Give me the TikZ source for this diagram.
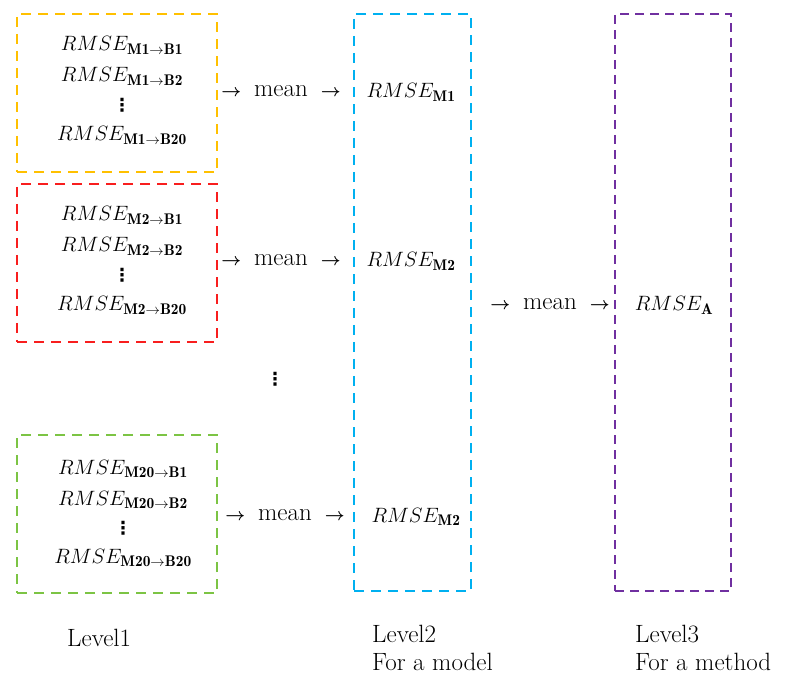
\documentclass[tikz,border=0pt]{standalone}
\usepackage{amsmath}
\usepackage{fontspec}
\newfontfamily\dvsfont{DejaVu Sans}
\definecolor{cyel}{HTML}{FFC000}
\definecolor{cred}{HTML}{F81E1E}
\definecolor{cgrn}{HTML}{7CC444}
\definecolor{cblu}{HTML}{00B0F0}
\definecolor{cpur}{HTML}{7030A0}
\newcommand\myarr{{\fontsize{17}{17}\selectfont$\boldsymbol{\rightarrow}$}}
\newcommand\myvdots{{\dvsfont\bfseries ⋮}}
\begin{document}
\begin{tikzpicture}[x=1pt,y=-1pt,
 box/.style={line width=2.4pt, dash pattern=on 10pt off 7pt, inner sep=0pt, outer sep=0pt},
 pbox/.style={line width=2.2pt, dash pattern=on 9pt off 6pt, inner sep=0pt, outer sep=0pt},
 rm/.style={anchor=base, font=\fontsize{22}{26}\selectfont, inner sep=0pt},
 tx/.style={anchor=base, font=\fontsize{25}{30}\selectfont, inner sep=0pt},
 dt/.style={font=\fontsize{18}{19}\selectfont, inner sep=0pt}]
\useasboundingbox (0,0) rectangle (787,684);
% boxes
\node[box, draw=cyel, minimum width=200pt, minimum height=158pt] (b1) at (117,93) {};
\node[box, draw=cred, minimum width=200pt, minimum height=158pt] (b2) at (117,263) {};
\node[box, draw=cgrn, minimum width=200pt, minimum height=158pt] (b3) at (117,514) {};
\node[box, draw=cblu, minimum width=117pt, minimum height=577pt] (b4) at (412.5,302.5) {};
\node[pbox, draw=cpur, minimum width=116pt, minimum height=577pt] (b5) at (673,302.5) {};
% level 1, box 1
\node[rm] (y1) at (122,51) {$RMSE_{\mathbf{M1\rightarrow B1}}$};
\node[rm] (y2) at (122,82) {$RMSE_{\mathbf{M1\rightarrow B2}}$};
\node[dt] (y3) at (122,105) {\myvdots};
\node[rm] (y4) at (122,141) {$RMSE_{\mathbf{M1\rightarrow B20}}$};
% box 2
\node[rm] (r1) at (122,221) {$RMSE_{\mathbf{M2\rightarrow B1}}$};
\node[rm] (r2) at (122,252) {$RMSE_{\mathbf{M2\rightarrow B2}}$};
\node[dt] (r3) at (122,275) {\myvdots};
\node[rm] (r4) at (122,311) {$RMSE_{\mathbf{M2\rightarrow B20}}$};
% box 3
\node[rm] (g1) at (123,474) {$RMSE_{\mathbf{M20\rightarrow B1}}$};
\node[rm] (g2) at (123,505) {$RMSE_{\mathbf{M20\rightarrow B2}}$};
\node[dt] (g3) at (123,528) {\myvdots};
\node[rm] (g4) at (123,563) {$RMSE_{\mathbf{M20\rightarrow B20}}$};
% middle dots
\node[dt] (vd) at (275,379) {\myvdots};
% mean labels
\node[tx] (m1) at (281,97) {\myarr\hspace{13pt}mean\hspace{13pt}\myarr};
\node[tx] (m2) at (281,266) {\myarr\hspace{13pt}mean\hspace{13pt}\myarr};
\node[tx] (m3) at (285,520) {\myarr\hspace{13pt}mean\hspace{13pt}\myarr};
\node[tx] (m4) at (550,310) {\myarr\hspace{13pt}mean\hspace{13pt}\myarr};
% level 2
\node[rm] (l21) at (411,98) {$RMSE_{\mathbf{M1}}$};
\node[rm] (l22) at (411,267) {$RMSE_{\mathbf{M2}}$};
\node[rm] (l23) at (416,522) {$RMSE_{\mathbf{M2}}$};
% level 3
\node[rm] (l3) at (674,311) {$RMSE_{\mathbf{A}}$};
% captions
\node[tx, anchor=base west] (c1) at (67,646) {Level1};
\node[tx, anchor=base west] (c2) at (372,642) {Level2};
\node[tx, anchor=base west] (c3) at (372,670) {For a model};
\node[tx, anchor=base west] (c4) at (635,642) {Level3};
\node[tx, anchor=base west] (c5) at (635,670) {For a method};
\end{tikzpicture}
\end{document}
